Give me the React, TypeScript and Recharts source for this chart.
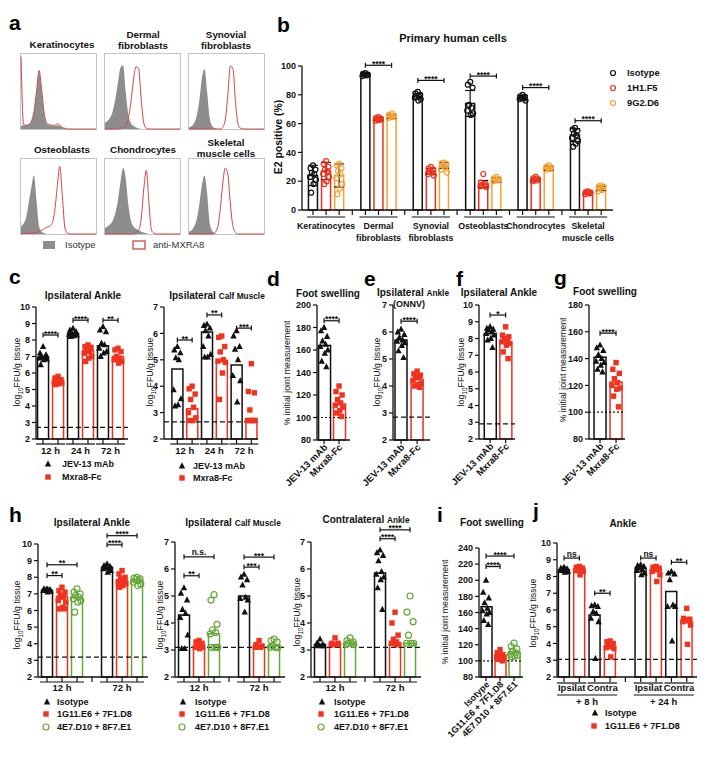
import React from 'react';
import { ComposedChart, Bar, Scatter, XAxis, YAxis, ReferenceLine, Cell, ErrorBar, Area, Line } from 'recharts';

const FONT = '"Liberation Sans", Arial, Helvetica, sans-serif';
const K = '#111111';
const C_RED = '#f0321e';
const C_ORANGE = '#f5a233';
const C_GREEN = '#66a83a';
const H_RED = '#c94848';
const H_GRAY = '#8d8d8d';

type Shape = 'tri' | 'sq' | 'circ';
type St = { color: string; shape: Shape; size: number };
const ST_TRI: St = { color: K, shape: 'tri', size: 3.2 };
const ST_SQ: St = { color: C_RED, shape: 'sq', size: 2.7 };
const ST_GO: St = { color: C_GREEN, shape: 'circ', size: 3 };
const ST_B_ISO: St = { color: K, shape: 'circ', size: 2.5 };
const ST_B_H1: St = { color: C_RED, shape: 'circ', size: 2.5 };
const ST_B_G2: St = { color: C_ORANGE, shape: 'circ', size: 2.5 };

// ---------------- Panel a : flow histograms (fraction of box height per bin) ----------------
const aKerIso = [0.04, 0.05, 0.05, 0.06, 0.1, 0.22, 0.48, 0.76, 0.5, 0.18, 0.07, 0.05, 0.04, 0.04, 0.05, 0.04, 0.02, 0.01, 0, 0, 0, 0, 0, 0, 0, 0, 0, 0, 0, 0];
const aKerMx = [0.97, 0.06, 0.05, 0.06, 0.1, 0.23, 0.5, 0.78, 0.52, 0.2, 0.08, 0.06, 0.05, 0.05, 0.07, 0.05, 0.02, 0.01, 0, 0, 0, 0, 0, 0, 0, 0, 0, 0, 0, 0];
const aDermIso = [0.08, 0.11, 0.15, 0.24, 0.4, 0.62, 0.82, 0.85, 0.5, 0.2, 0.08, 0.04, 0.02, 0.01, 0, 0, 0, 0, 0, 0, 0, 0, 0, 0, 0, 0, 0, 0, 0, 0];
const aDermMx = [0, 0, 0, 0, 0, 0, 0.01, 0.02, 0.05, 0.14, 0.35, 0.65, 0.83, 0.8, 0.4, 0.08, 0.01, 0, 0, 0, 0, 0, 0, 0, 0, 0, 0, 0, 0, 0];
const aSynIso = [0.02, 0.04, 0.08, 0.18, 0.38, 0.68, 0.8, 0.5, 0.15, 0.04, 0.01, 0, 0, 0, 0, 0, 0, 0, 0, 0, 0, 0, 0, 0, 0, 0, 0, 0, 0, 0];
const aSynMx = [0, 0, 0, 0, 0, 0, 0, 0, 0, 0, 0, 0, 0, 0.02, 0.12, 0.45, 0.84, 0.8, 0.35, 0.06, 0.01, 0, 0, 0, 0, 0, 0, 0, 0, 0];
const aOstIso = [0.1, 0.14, 0.22, 0.42, 0.62, 0.78, 0.45, 0.1, 0.03, 0.01, 0, 0, 0, 0, 0, 0, 0, 0, 0, 0, 0, 0, 0, 0, 0, 0, 0, 0, 0, 0];
const aOstMx = [0.01, 0.01, 0.01, 0.01, 0.01, 0.01, 0.02, 0.03, 0.05, 0.07, 0.09, 0.1, 0.14, 0.3, 0.62, 0.9, 0.5, 0.08, 0.01, 0, 0, 0, 0, 0, 0, 0, 0, 0, 0, 0];
const aChoIso = [0.08, 0.1, 0.13, 0.18, 0.28, 0.45, 0.7, 0.88, 0.75, 0.4, 0.18, 0.1, 0.07, 0.05, 0.03, 0.02, 0.01, 0, 0, 0, 0, 0, 0, 0, 0, 0, 0, 0, 0, 0];
const aChoMx = [0, 0, 0, 0, 0, 0, 0, 0, 0, 0, 0, 0, 0.02, 0.05, 0.2, 0.6, 0.85, 0.4, 0.05, 0.01, 0, 0, 0, 0, 0, 0, 0, 0, 0, 0];
const aSkeIso = [0.03, 0.05, 0.1, 0.2, 0.4, 0.65, 0.78, 0.55, 0.15, 0.04, 0.01, 0, 0, 0, 0, 0, 0, 0, 0, 0, 0, 0, 0, 0, 0, 0, 0, 0, 0, 0];
const aSkeMx = [0, 0, 0, 0, 0, 0, 0, 0, 0, 0, 0.02, 0.08, 0.3, 0.65, 0.88, 0.8, 0.4, 0.1, 0.02, 0, 0, 0, 0, 0, 0, 0, 0, 0, 0, 0];

// ---------------- Panel b ----------------
const bCellLabels = [['Keratinocytes'], ['Dermal', 'fibroblasts'], ['Synovial', 'fibroblasts'], ['Osteoblasts'], ['Chondrocytes'], ['Skeletal', 'muscle cells']];
const bIsoMean = [24, 94, 79, 74, 78, 52];
const bIsoSD = [7, 1, 2, 9, 1.5, 4.5];
const bIsoPts = [[31, 29, 28, 26, 25, 23, 21, 18, 12], [95, 94.5, 94, 94, 93.5, 93], [82, 81, 80, 79, 79, 78, 77, 76], [89, 87, 85, 73, 71, 69, 67, 66], [80, 79, 78.5, 78, 77.5, 77, 76], [57, 56, 55, 53, 52, 50, 48, 46, 44]];
const bH1Mean = [27, 63, 27, 18, 21, 12];
const bH1SD = [6, 1, 2, 2.5, 1, 1];
const bH1Pts = [[34, 32, 30, 28, 27, 25, 23, 20, 18], [64.5, 64, 63.5, 63, 62.5, 62], [30, 29, 28, 27, 26, 25, 24], [25, 19, 18, 17.5, 17, 16.5, 16], [23, 22, 21.5, 21, 20.5, 20], [13, 12.5, 12, 12, 11.5, 11]];
const bG2Mean = [24, 65, 31, 21, 29, 15];
const bG2SD = [8, 1.5, 2, 1.5, 1.5, 1.5];
const bG2Pts = [[32, 31, 29, 27, 25, 22, 18, 15, 11], [67, 66, 65.5, 65, 64.5, 64], [33, 32.5, 32, 31, 30, 28, 26], [23, 22, 21.5, 21, 20.5, 20], [31, 30, 29.5, 29, 28.5, 28], [17, 16.5, 16, 15, 14, 13]];
const bSig: [number, number, number, number, string][] = [[1, 0, 2, 100.5, '****'], [2, 0, 2, 90, '****'], [3, 0, 2, 93, '****'], [4, 0, 2, 85, '****'], [5, 0, 2, 62, '****']];

// ---------------- Panel c ----------------
const cTimes = ['12 h', '24 h', '72 h'];
const cAnkleJev = [[7.6, 7.2, 7.1, 7.0, 6.95, 6.9, 6.85, 6.8, 6.5], [8.7, 8.6, 8.5, 8.45, 8.4, 8.35, 8.3, 8.25, 8.2], [8.8, 8.6, 8.5, 7.8, 7.7, 7.5, 7.3, 7.2, 7.0]];
const cAnkleJevMean = [6.95, 8.4, 7.65];
const cAnkleMxra = [[5.8, 5.7, 5.6, 5.55, 5.5, 5.45, 5.4, 5.35, 5.3], [7.7, 7.6, 7.55, 7.4, 7.3, 7.2, 7.0, 6.9, 6.7], [7.5, 7.4, 7.3, 7.0, 6.9, 6.8, 6.7, 6.6]];
const cAnkleMxraMean = [5.5, 7.35, 7.0];
const cAnkleSig: [number, number, number, number, string][] = [[0, 0, 1, 8.3, '****'], [1, 0, 1, 9.2, '****'], [2, 0, 1, 9.2, '**']];
const cCalfJev = [[5.5, 5.37, 5.26, 5.07, 5.0, 3.86, 3.52, 3.29, 3.25], [6.35, 6.3, 6.2, 6.1, 5.9, 5.5, 5.2, 5.1, 5.1], [6.1, 5.9, 5.5, 5.4, 5.0, 4.4, 4.2, 3.4]];
const cCalfJevMean = [4.65, 6.05, 4.8];
const cCalfMxra = [[4.0, 3.9, 3.7, 3.5, 3.2, 3.0, 2.8, 2.7, 2.7], [5.9, 5.85, 5.5, 5.3, 5.0, 4.95, 4.9, 4.5, 3.5], [4.85, 3.8, 3.75, 3.1, 2.7, 2.7, 2.7, 2.7, 2.7]];
const cCalfMxraMean = [3.15, 4.95, 2.75];
const cCalfSig: [number, number, number, number, string][] = [[0, 0, 1, 5.75, '**'], [1, 0, 1, 6.7, '**'], [2, 0, 1, 6.2, '***']];

// ---------------- Panels d-g ----------------
const dgLabels = ['JEV-13 mAb', 'Mxra8-Fc'];
const dJev = [[180, 177, 172, 168, 165, 163, 160, 157, 150, 145]];
const dJevMean = [164];
const dMxra = [[128, 123, 120, 116, 113, 111, 109, 106, 104, 101]];
const dMxraMean = [112];
const dSig: [number, number, number, number, string][] = [[0, 0, 1, 186, '****']];
const eJev = [[6.1, 6.0, 5.9, 5.8, 5.7, 5.65, 5.6, 5.5, 5.3, 5.05]];
const eJevMean = [5.7];
const eMxra = [[4.55, 4.45, 4.4, 4.35, 4.3, 4.2, 4.1, 4.05, 4.0, 3.95]];
const eMxraMean = [4.25];
const eSig: [number, number, number, number, string][] = [[0, 0, 1, 6.4, '****']];
const fJev = [[8.7, 8.6, 8.55, 8.5, 8.4, 8.3, 8.2, 8.0, 7.9, 7.45]];
const fJevMean = [8.3];
const fMxra = [[8.7, 8.2, 8.1, 8.0, 7.9, 7.8, 7.7, 7.6, 7.2, 6.8]];
const fMxraMean = [7.8];
const fSig: [number, number, number, number, string][] = [[0, 0, 1, 9.4, '*']];
const gJev = [[150, 148, 146, 143, 140, 138, 137, 135, 132, 130]];
const gJevMean = [141];
const gMxra = [[137, 132, 129, 125, 122, 120, 118, 117, 112, 104]];
const gMxraMean = [122.5];
const gSig: [number, number, number, number, string][] = [[0, 0, 1, 159, '****']];

// ---------------- Panel h ----------------
const hTimes = ['12 h', '72 h'];
const hAnkleIso = [[7.3, 7.3, 7.25, 7.2, 7.2, 7.2, 7.15, 7.1], [8.8, 8.7, 8.65, 8.6, 8.55, 8.5, 8.4, 8.3]];
const hAnkleIsoMean = [7.22, 8.6];
const hAnkleRed = [[7.4, 7.2, 7.1, 6.9, 6.8, 6.6, 6.5, 6.2, 6.1, 6.1], [8.4, 8.2, 8.0, 7.9, 7.8, 7.7, 7.6, 7.5, 7.4]];
const hAnkleRedMean = [6.85, 7.85];
const hAnkleGreen = [[7.3, 7.1, 7.0, 6.9, 6.8, 6.7, 6.6, 6.5, 5.9], [8.0, 7.95, 7.9, 7.85, 7.8, 7.7, 7.6, 7.5]];
const hAnkleGreenMean = [6.78, 7.8];
const hAnkleSig: [number, number, number, number, string][] = [[0, 0, 1, 8.1, '**'], [0, 0, 2, 8.75, '**'], [1, 0, 1, 9.95, '****'], [1, 0, 2, 10.5, '****']];
const hCalfIso = [[5.3, 5.1, 4.85, 4.5, 4.35, 4.2, 3.55, 3.05, 3.05], [5.8, 5.7, 5.6, 5.4, 4.95, 4.9, 4.85, 4.4]];
const hCalfIsoMean = [4.3, 5.0];
const hCalfRed = [[3.35, 3.3, 3.25, 3.2, 3.15, 3.1, 3.1, 3.05], [3.35, 3.2, 3.15, 3.1, 3.1, 3.1]];
const hCalfRedMean = [3.07, 3.1];
const hCalfGreen = [[5.05, 4.85, 3.95, 3.75, 3.65, 3.6, 3.1, 3.1, 3.1, 3.1], [3.4, 3.35, 3.3, 3.15, 3.1, 3.1, 3.1]];
const hCalfGreenMean = [3.6, 3.15];
const hCalfSig: [number, number, number, number, string][] = [[0, 0, 1, 5.75, '**'], [0, 0, 2, 6.45, 'n.s.'], [1, 0, 1, 6.07, '***'], [1, 0, 2, 6.44, '***']];
const hContraIso = [[3.4, 3.25, 3.2, 3.2, 3.15, 3.15, 3.15], [6.7, 6.6, 6.5, 6.3, 5.9, 5.8, 5.7, 5.6, 5.3, 4.5]];
const hContraIsoMean = [3.2, 5.85];
const hContraRed = [[3.45, 3.25, 3.25, 3.2, 3.2, 3.2], [4.4, 4.0, 3.55, 3.4, 3.3, 3.25, 3.2, 3.2]];
const hContraRedMean = [3.25, 3.2];
const hContraGreen = [[3.45, 3.35, 3.3, 3.25, 3.25, 3.2, 3.2], [5.0, 4.4, 4.05, 3.55, 3.25, 3.25, 3.25, 3.25]];
const hContraGreenMean = [3.25, 3.25];
const hContraSig: [number, number, number, number, string][] = [[1, 0, 1, 7.12, '****'], [1, 0, 2, 7.45, '****']];

// ---------------- Panel i ----------------
const iLabels = ['Isotype', '1G11.E6 + 7F1.D8', '4E7.D10 + 8F7.E1'];
const iIso = [[200, 185, 178, 172, 165, 162, 160, 158, 150, 145]];
const iIsoMean = [167];
const iRed = [[114, 110, 108, 107, 106, 105, 104, 103, 102, 100]];
const iRedMean = [107];
const iGreen = [[122, 118, 115, 112, 110, 108, 107, 106, 105]];
const iGreenMean = [111];
const iSig: [number, number, number, number, string][] = [[0, 0, 1, 217, '****'], [0, 0, 2, 230, '****']];

// ---------------- Panel j ----------------
const jSubLabels = ['Ipsilat', 'Contra', 'Ipsilat', 'Contra'];
const jTimeLabels = ['+ 8 h', '+ 24 h'];
const jIsoPts = [[8.55, 8.5, 8.45, 8.4, 8.4, 8.35, 8.3, 8.25], [6.3, 6.25, 6.2, 5.9, 5.8, 5.5, 5.3, 3.1], [8.7, 8.65, 8.6, 8.5, 8.4, 8.35, 8.2, 8.1], [8.3, 8.2, 8.15, 7.8, 6.3, 6.2, 6.2, 4.15]];
const jIsoMean = [8.4, 5.7, 8.5, 7.1];
const jRedPts = [[8.6, 8.55, 8.5, 8.5, 8.4, 8.35, 8.3, 8.1], [4.15, 4.1, 4.0, 3.9, 3.8, 3.75, 3.7, 3.2], [8.6, 8.55, 8.5, 8.45, 8.4, 8.3, 8.1, 7.7], [6.1, 5.5, 5.45, 5.4, 5.35, 5.3, 5.1, 3.95]];
const jRedMean = [8.45, 3.8, 8.4, 5.3];
const jSig: [number, number, number, number, string][] = [[0, 0, 1, 9.1, 'ns'], [1, 0, 1, 7.0, '**'], [2, 0, 1, 9.1, 'ns'], [3, 0, 1, 8.85, '**']];

const T2_10 = [2, 3, 4, 5, 6, 7, 8, 9, 10];
const T2_7 = [2, 3, 4, 5, 6, 7];

// layout-only horizontal spread pattern for replicate points (slot units)
const JIT = [0, -0.26, 0.26, -0.13, 0.13, -0.32, 0.32, 0.06, -0.2, 0.2];

// ---------------- helpers ----------------
function Marker({ cx, cy, st }: { cx: number; cy: number; st: St }) {
  if (!isFinite(cx) || !isFinite(cy)) return null;
  const s = st.size;
  if (st.shape === 'tri') return <polygon points={`${cx},${cy - s * 1.15} ${cx - s},${cy + s * 0.75} ${cx + s},${cy + s * 0.75}`} fill={st.color} />;
  if (st.shape === 'sq') return <rect x={cx - s} y={cy - s} width={2 * s} height={2 * s} fill={st.color} />;
  return <circle cx={cx} cy={cy} r={s} fill="none" stroke={st.color} strokeWidth={1.2} />;
}

type Col = { pos: number; mean: number; pts: number[]; st: St; sd?: number };
type Sig = [number, number, number, number, string];
type Grp = { from: number; to: number; lines: string[]; level: number };
type Cfg = {
  x0: number; x1: number; yTop: number; yBot: number;
  domain: [number, number]; ticks: number[];
  xlo: number; xhi: number; barSize: number;
  starts: number[]; cols: Col[]; sig: Sig[];
  groups?: Grp[]; seps?: number[]; rotated?: string[];
  lod?: number; lodDash?: string;
  tickLen: number; ul: number[]; txt: number[]; lineH: number; labelSize: number; jitter: number;
};

function buildCols(series: { st: St; means: number[]; pts: number[][]; sd?: number[] }[], starts: number[]): Col[] {
  const out: Col[] = [];
  starts.forEach((s, g) => series.forEach((se, k) => out.push({ pos: s + k, mean: se.means[g], pts: se.pts[g], st: se.st, sd: se.sd ? se.sd[g] : undefined })));
  return out;
}
function buildGroups(labels: string[][], starts: number[], n: number, level = 0): Grp[] {
  return starts.map((s, g) => ({ from: s, to: s + n - 1, lines: labels[g], level }));
}

function Panel({ c }: { c: Cfg }) {
  const ML = 40, MR = 10, MT = 28, MB = 66;
  const W = c.x1 - c.x0, H = c.yBot - c.yTop;
  const slotPx = W / (c.xhi - c.xlo);
  const perPx = (c.domain[1] - c.domain[0]) / H;
  const half = c.barSize / 2 + 1.5;
  const data = c.cols.map((col) => ({ pos: col.pos, mean: col.mean, sd: col.sd ?? 0 }));
  const hasSd = c.cols.some((col) => col.sd !== undefined);
  const tickVals = [...c.cols.map((col) => col.pos), ...(c.seps ?? [])].sort((a, b) => a - b);
  const groups = c.groups ?? [];
  const renderTick = (tp: any) => {
    const v = tp.payload.value;
    const x = tp.x, y = tp.y;
    const els: any[] = [<line key="tk" x1={x} x2={x} y1={y} y2={y + c.tickLen} stroke={K} strokeWidth={1.2} />];
    groups.forEach((g, gi) => {
      if (Math.abs(g.from - v) > 1e-6) return;
      const xb = x + (g.to - g.from) * slotPx;
      const uy = y + c.ul[g.level];
      els.push(<line key={`u${gi}`} x1={x - half} x2={xb + half} y1={uy} y2={uy} stroke={K} strokeWidth={1.2} />);
      g.lines.forEach((ln, li) => els.push(
        <text key={`t${gi}-${li}`} x={(x + xb) / 2} y={y + c.txt[g.level] + li * c.lineH + c.labelSize * 0.36} textAnchor="middle" fontSize={c.labelSize} fontWeight="bold" fontFamily={FONT} fill={K}>{ln}</text>
      ));
    });
    if (c.rotated) {
      const idx = c.cols.findIndex((col) => Math.abs(col.pos - v) < 1e-6);
      if (idx >= 0) {
        const ax = x + 4, ay = y + 8;
        els.push(<text key="r" x={ax} y={ay} transform={`rotate(-45 ${ax} ${ay})`} textAnchor="end" fontSize={c.labelSize} fontWeight="bold" fontFamily={FONT} fill={K}>{c.rotated[idx]}</text>);
      }
    }
    return <g>{els}</g>;
  };
  const cap = 2.5 * perPx;
  const refs: any[] = [];
  c.sig.forEach(([g, sa, sb, yv, t], i) => {
    const xa = c.starts[g] + sa, xb = c.starts[g] + sb;
    refs.push(<ReferenceLine key={`b${i}`} segment={[{ x: xa, y: yv }, { x: xb, y: yv }]} stroke={K} strokeWidth={1.2} ifOverflow="visible"
      label={{ value: t, position: 'top', offset: t.includes('*') ? -1.5 : 1.5, fontSize: 8.5, fontWeight: 'bold', fill: K, fontFamily: FONT }} />);
    refs.push(<ReferenceLine key={`l${i}`} segment={[{ x: xa, y: yv - cap }, { x: xa, y: yv + cap }]} stroke={K} strokeWidth={1.2} ifOverflow="visible" />);
    refs.push(<ReferenceLine key={`r${i}`} segment={[{ x: xb, y: yv - cap }, { x: xb, y: yv + cap }]} stroke={K} strokeWidth={1.2} ifOverflow="visible" />);
  });
  return (
    <div style={{ position: 'absolute', left: c.x0 - ML, top: c.yTop - MT }}>
      <ComposedChart width={ML + W + MR} height={MT + H + MB} data={data} margin={{ top: MT, right: MR, bottom: 0, left: 0 }}>
        <XAxis xAxisId={0} type="number" dataKey="pos" domain={[c.xlo, c.xhi]} ticks={tickVals} interval={0} height={MB}
          tickSize={0} tickMargin={0} tickLine={false} tick={renderTick} axisLine={{ stroke: K, strokeWidth: 1.3 }} />
        <XAxis xAxisId="p" type="number" dataKey="pos" domain={[c.xlo, c.xhi]} hide />
        <YAxis type="number" domain={c.domain} ticks={c.ticks} interval={0} width={ML} tickSize={4} tickMargin={2}
          tick={{ fontSize: 9, fontWeight: 'bold', fill: K, fontFamily: FONT }} axisLine={{ stroke: K, strokeWidth: 1.3 }} tickLine={{ stroke: K, strokeWidth: 1.2 }} />
        {c.lod !== undefined && <ReferenceLine y={c.lod} stroke={K} strokeDasharray={c.lodDash} strokeWidth={1.2} />}
        <Bar xAxisId={0} dataKey="mean" barSize={c.barSize} isAnimationActive={false} fill="#ffffff" fillOpacity={0} strokeWidth={1.5}>
          {c.cols.map((col, i) => <Cell key={i} stroke={col.st.color} />)}
          {hasSd && <ErrorBar dataKey="sd" width={5} strokeWidth={1.2} stroke={K} direction="y" />}
        </Bar>
        {c.cols.map((col, i) => (
          <Scatter key={`s${i}`} xAxisId="p" data={col.pts.map((v, k) => ({ pos: col.pos + JIT[k % JIT.length] * c.jitter, y: v }))}
            dataKey="y" isAnimationActive={false} shape={(sp: any) => <Marker cx={sp.cx} cy={sp.cy} st={col.st} />} />
        ))}
        {refs}
      </ComposedChart>
    </div>
  );
}

function Histo({ left, top, iso, mx }: { left: number; top: number; iso: number[]; mx: number[] }) {
  const data = iso.map((v, i) => ({ i, iso: v, mx: mx[i] }));
  return (
    <div style={{ position: 'absolute', left, top, width: 77, height: 77, border: '1px solid #c4c4c4', boxSizing: 'border-box' }}>
      <ComposedChart width={75} height={75} data={data} margin={{ top: 0, right: 0, bottom: 0, left: 0 }}>
        <XAxis type="number" dataKey="i" domain={[0, 29]} hide />
        <YAxis type="number" domain={[0, 1]} hide />
        <Area type="monotone" dataKey="iso" stroke="none" fill={H_GRAY} fillOpacity={1} isAnimationActive={false} />
        <Line type="monotone" dataKey="mx" stroke={H_RED} strokeWidth={1} dot={false} isAnimationActive={false} />
      </ComposedChart>
    </div>
  );
}

// ---------------- chart configurations ----------------
const C_AX = { tickLen: 5, ul: [5], txt: [11.5], lineH: 11, labelSize: 9.5, jitter: 0.78 };
const R_AX = { tickLen: 4, ul: [0], txt: [0], lineH: 0, labelSize: 9.5, jitter: 0.78 };

const cfgB: Cfg = {
  x0: 302, x1: 613, yTop: 66, yBot: 210, domain: [0, 100], ticks: [0, 20, 40, 60, 80, 100],
  xlo: -0.84, xhi: 22.9, barSize: 9, starts: [0, 4, 8, 12, 16, 20],
  cols: buildCols([
    { st: ST_B_ISO, means: bIsoMean, pts: bIsoPts, sd: bIsoSD },
    { st: ST_B_H1, means: bH1Mean, pts: bH1Pts, sd: bH1SD },
    { st: ST_B_G2, means: bG2Mean, pts: bG2Pts, sd: bG2SD },
  ], [0, 4, 8, 12, 16, 20]),
  sig: bSig, groups: buildGroups(bCellLabels, [0, 4, 8, 12, 16, 20], 3), seps: [3, 7, 11, 15, 19],
  tickLen: 5, ul: [7], txt: [16], lineH: 11.5, labelSize: 8.8, jitter: 0.7,
};

const cfgC1: Cfg = {
  ...C_AX, x0: 36, x1: 128, yTop: 307, yBot: 439, domain: [2, 10], ticks: T2_10, xlo: -0.47, xhi: 5.67, barSize: 11,
  starts: [0, 2, 4],
  cols: buildCols([{ st: ST_TRI, means: cAnkleJevMean, pts: cAnkleJev }, { st: ST_SQ, means: cAnkleMxraMean, pts: cAnkleMxra }], [0, 2, 4]),
  sig: cAnkleSig, groups: buildGroups(cTimes.map((t) => [t]), [0, 2, 4], 2), lod: 2.7, lodDash: '5 3',
};
const cfgC2: Cfg = {
  ...C_AX, x0: 164, x1: 258, yTop: 307, yBot: 439, domain: [2, 7], ticks: T2_7, xlo: -0.9, xhi: 5.45, barSize: 11,
  starts: [0, 2, 4],
  cols: buildCols([{ st: ST_TRI, means: cCalfJevMean, pts: cCalfJev }, { st: ST_SQ, means: cCalfMxraMean, pts: cCalfMxra }], [0, 2, 4]),
  sig: cCalfSig, groups: buildGroups(cTimes.map((t) => [t]), [0, 2, 4], 2), lod: 2.65, lodDash: '5 3',
};
const cfgD: Cfg = {
  ...R_AX, x0: 317, x1: 350, yTop: 305, yBot: 440, domain: [80, 200], ticks: [80, 100, 120, 140, 160, 180, 200], xlo: -0.47, xhi: 1.73, barSize: 12,
  starts: [0], cols: buildCols([{ st: ST_TRI, means: dJevMean, pts: dJev }, { st: ST_SQ, means: dMxraMean, pts: dMxra }], [0]),
  sig: dSig, rotated: dgLabels, lod: 100, lodDash: '2 2',
};
const cfgE: Cfg = {
  ...R_AX, x0: 393, x1: 430, yTop: 305, yBot: 440, domain: [2, 7], ticks: T2_7, xlo: -0.5, xhi: 1.8, barSize: 12,
  starts: [0], cols: buildCols([{ st: ST_TRI, means: eJevMean, pts: eJev }, { st: ST_SQ, means: eMxraMean, pts: eMxra }], [0]),
  sig: eSig, rotated: dgLabels, lod: 2.85, lodDash: '5 3',
};
const cfgF: Cfg = {
  ...R_AX, x0: 479, x1: 515, yTop: 305, yBot: 439, domain: [2, 10], ticks: T2_10, xlo: -0.71, xhi: 1.6, barSize: 12,
  starts: [0], cols: buildCols([{ st: ST_TRI, means: fJevMean, pts: fJev }, { st: ST_SQ, means: fMxraMean, pts: fMxra }], [0]),
  sig: fSig, rotated: dgLabels, lod: 2.9, lodDash: '5 3',
};
const cfgG: Cfg = {
  ...R_AX, x0: 589, x1: 625, yTop: 305, yBot: 439, domain: [80, 180], ticks: [80, 100, 120, 140, 160, 180], xlo: -0.69, xhi: 1.56, barSize: 12,
  starts: [0], cols: buildCols([{ st: ST_TRI, means: gJevMean, pts: gJev }, { st: ST_SQ, means: gMxraMean, pts: gMxra }], [0]),
  sig: gSig, rotated: dgLabels, lod: 100, lodDash: '2 2',
};
const H_AX = { ...C_AX, ul: [5], txt: [11], xlo: -0.6, xhi: 6.73, barSize: 11, starts: [0, 4], seps: [3] };
const cfgH1: Cfg = {
  ...H_AX, x0: 38, x1: 148, yTop: 544, yBot: 677, domain: [2, 10], ticks: T2_10,
  cols: buildCols([
    { st: ST_TRI, means: hAnkleIsoMean, pts: hAnkleIso },
    { st: ST_SQ, means: hAnkleRedMean, pts: hAnkleRed },
    { st: ST_GO, means: hAnkleGreenMean, pts: hAnkleGreen },
  ], [0, 4]),
  sig: hAnkleSig, groups: buildGroups(hTimes.map((t) => [t]), [0, 4], 3), lod: 3.2, lodDash: '5 3',
};
const cfgH2: Cfg = {
  ...H_AX, x0: 175, x1: 285, yTop: 542, yBot: 677, domain: [2, 7], ticks: T2_7,
  cols: buildCols([
    { st: ST_TRI, means: hCalfIsoMean, pts: hCalfIso },
    { st: ST_SQ, means: hCalfRedMean, pts: hCalfRed },
    { st: ST_GO, means: hCalfGreenMean, pts: hCalfGreen },
  ], [0, 4]),
  sig: hCalfSig, groups: buildGroups(hTimes.map((t) => [t]), [0, 4], 3), lod: 3.1, lodDash: '5 3',
};
const cfgH3: Cfg = {
  ...H_AX, x0: 311, x1: 421, yTop: 542, yBot: 677, domain: [2, 7], ticks: T2_7,
  cols: buildCols([
    { st: ST_TRI, means: hContraIsoMean, pts: hContraIso },
    { st: ST_SQ, means: hContraRedMean, pts: hContraRed },
    { st: ST_GO, means: hContraGreenMean, pts: hContraGreen },
  ], [0, 4]),
  sig: hContraSig, groups: buildGroups(hTimes.map((t) => [t]), [0, 4], 3), lod: 3.1, lodDash: '5 3',
};
const cfgI: Cfg = {
  ...R_AX, x0: 479, x1: 523, yTop: 548, yBot: 677, domain: [80, 240], ticks: [80, 100, 120, 140, 160, 180, 200, 220, 240],
  xlo: -0.5, xhi: 2.64, barSize: 11, starts: [0],
  cols: buildCols([
    { st: ST_TRI, means: iIsoMean, pts: iIso },
    { st: ST_SQ, means: iRedMean, pts: iRed },
    { st: ST_GO, means: iGreenMean, pts: iGreen },
  ], [0]),
  sig: iSig, rotated: iLabels, lod: 100, lodDash: '2 2', labelSize: 9,
};
const cfgJ: Cfg = {
  ...C_AX, x0: 557, x1: 697, yTop: 543, yBot: 677, domain: [2, 10], ticks: T2_10, xlo: -0.46, xhi: 8.67, barSize: 11,
  starts: [0, 2, 5, 7],
  cols: buildCols([{ st: ST_TRI, means: jIsoMean, pts: jIsoPts }, { st: ST_SQ, means: jRedMean, pts: jRedPts }], [0, 2, 5, 7]),
  sig: jSig,
  groups: [...buildGroups(jSubLabels.map((s) => [s]), [0, 2, 5, 7], 2, 0), ...buildGroups(jTimeLabels.map((s) => [s]), [0, 5], 4, 1)],
  seps: [4], lod: 3.05, lodDash: '5 3', ul: [6, 18], txt: [11, 24.5],
};

// ---------------- text helpers ----------------
const Tx = ({ x, y, s = 10, w = 'bold', a = 'middle', fill = K, children }: any) => (
  <text x={x} y={y + s * 0.35} fontSize={s} fontWeight={w} textAnchor={a} fontFamily={FONT} fill={fill}>{children}</text>
);
const Letter = ({ x, y, ch }: any) => (
  <text x={x} y={y} fontSize={21} fontWeight="bold" fontFamily={FONT} fill="#000">{ch}</text>
);
const YL = ({ x, y, s = 8.8, w = 'normal', children }: any) => (
  <text transform={`translate(${x},${y}) rotate(-90)`} x={0} y={s * 0.35} textAnchor="middle" fontSize={s} fontWeight={w} fontFamily={FONT} fill={K}>{children}</text>
);
const LogLabel = () => (<>log<tspan fontSize={6.5} dy={2.5}>10</tspan><tspan dy={-2.5}>FFU/g tissue</tspan></>);

export default function App() {
  return (
    <div style={{ position: 'absolute', left: 0, top: 0, width: 704, height: 765, background: '#ffffff', fontFamily: FONT, overflow: 'hidden' }}>
      <style>{`.recharts-surface{overflow:visible}`}</style>
      <Histo left={20} top={53} iso={aKerIso} mx={aKerMx} />
      <Histo left={104} top={53} iso={aDermIso} mx={aDermMx} />
      <Histo left={188} top={53} iso={aSynIso} mx={aSynMx} />
      <Histo left={20} top={158} iso={aOstIso} mx={aOstMx} />
      <Histo left={104} top={158} iso={aChoIso} mx={aChoMx} />
      <Histo left={188} top={158} iso={aSkeIso} mx={aSkeMx} />
      <Panel c={cfgB} />
      <Panel c={cfgC1} />
      <Panel c={cfgC2} />
      <Panel c={cfgD} />
      <Panel c={cfgE} />
      <Panel c={cfgF} />
      <Panel c={cfgG} />
      <Panel c={cfgH1} />
      <Panel c={cfgH2} />
      <Panel c={cfgH3} />
      <Panel c={cfgI} />
      <Panel c={cfgJ} />
      <svg width={704} height={765} style={{ position: 'absolute', left: 0, top: 0, pointerEvents: 'none' }}>
        {/* panel letters */}
        <Letter x={9} y={30} ch="a" />
        <Letter x={277} y={32} ch="b" />
        <Letter x={9} y={284} ch="c" />
        <Letter x={267} y={286} ch="d" />
        <Letter x={364} y={286} ch="e" />
        <Letter x={456} y={286} ch="f" />
        <Letter x={554} y={285} ch="g" />
        <Letter x={9} y={522} ch="h" />
        <Letter x={437} y={522} ch="i" />
        <Letter x={533} y={518} ch="j" />

        {/* panel a titles & legend */}
        <Tx x={62} y={45} s={9.8}>Keratinocytes</Tx>
        <Tx x={143} y={35} s={9.8}>Dermal</Tx>
        <Tx x={143} y={46} s={9.8}>fibroblasts</Tx>
        <Tx x={226} y={35} s={9.8}>Synovial</Tx>
        <Tx x={226} y={46} s={9.8}>fibroblasts</Tx>
        <Tx x={62} y={150} s={9.8}>Osteoblasts</Tx>
        <Tx x={143} y={150} s={9.8}>Chondrocytes</Tx>
        <Tx x={226} y={143} s={9.8}>Skeletal</Tx>
        <Tx x={226} y={154} s={9.8}>muscle cells</Tx>
        <rect x={43} y={241} width={12} height={8} fill={H_GRAY} />
        <Tx x={65} y={245} s={9.5} w="normal" a="start" fill="#333">Isotype</Tx>
        <rect x={133} y={241} width={12} height={8} fill="none" stroke={H_RED} strokeWidth={1.3} />
        <Tx x={153} y={245} s={9.5} w="normal" a="start" fill="#333">anti-MXRA8</Tx>

        {/* panel b */}
        <Tx x={453} y={38} s={11}>Primary human cells</Tx>
        <YL x={278} y={137} s={10.5} w="bold">E2 positive (%)</YL>
        <Marker cx={613} cy={73} st={ST_B_ISO} />
        <Marker cx={613} cy={88} st={ST_B_H1} />
        <Marker cx={613} cy={103} st={ST_B_G2} />
        <Tx x={627} y={73} s={9.3} a="start">Isotype</Tx>
        <Tx x={627} y={88} s={9.3} a="start">1H1.F5</Tx>
        <Tx x={627} y={103} s={9.3} a="start">9G2.D6</Tx>

        {/* panel c-g titles */}
        <Tx x={83} y={295} s={10}>Ipsilateral Ankle</Tx>
        <Tx x={217} y={295} s={10}>Ipsilateral <tspan fontSize={8.3}>Calf Muscle</tspan></Tx>
        <Tx x={328} y={293} s={10}>Foot swelling</Tx>
        <Tx x={413} y={292} s={10}>Ipsilateral <tspan fontSize={8.3}>Ankle</tspan></Tx>
        <Tx x={409} y={304} s={9}>(ONNV)</Tx>
        <Tx x={499} y={292} s={10}>Ipsilateral Ankle</Tx>
        <Tx x={605} y={291} s={10}>Foot swelling</Tx>
        <YL x={17} y={372}><LogLabel /></YL>
        <YL x={150} y={372}><LogLabel /></YL>
        <YL x={287} y={373}>% initial joint measurement</YL>
        <YL x={377} y={372}><LogLabel /></YL>
        <YL x={461} y={372}><LogLabel /></YL>
        <YL x={563} y={370}>% initial joint measurement</YL>
        <Marker cx={48} cy={464} st={ST_TRI} />
        <Marker cx={48} cy={477} st={ST_SQ} />
        <Tx x={62} y={464} s={9} a="start">JEV-13 mAb</Tx>
        <Tx x={62} y={477} s={9} a="start">Mxra8-Fc</Tx>
        <Marker cx={182} cy={466} st={ST_TRI} />
        <Marker cx={182} cy={478} st={ST_SQ} />
        <Tx x={193} y={466} s={9} a="start">JEV-13 mAb</Tx>
        <Tx x={193} y={478} s={9} a="start">Mxra8-Fc</Tx>

        {/* panel h-j titles */}
        <Tx x={92} y={522} s={10}>Ipsilateral Ankle</Tx>
        <Tx x={233} y={522} s={10}>Ipsilateral <tspan fontSize={8.3}>Calf Muscle</tspan></Tx>
        <Tx x={366} y={519} s={10}>Contralateral <tspan fontSize={8.3}>Ankle</tspan></Tx>
        <Tx x={492} y={522} s={10}>Foot swelling</Tx>
        <Tx x={623} y={523} s={10}>Ankle</Tx>
        <YL x={17} y={615}><LogLabel /></YL>
        <YL x={160} y={615}><LogLabel /></YL>
        <YL x={297} y={612}><LogLabel /></YL>
        <YL x={445} y={612}>% initial joint measurement</YL>
        <YL x={533} y={613}><LogLabel /></YL>
        {[[47, 57], [183, 195], [322, 334]].map(([mx, tx], i) => (
          <g key={i}>
            <Marker cx={mx} cy={702} st={ST_TRI} />
            <Marker cx={mx - 1} cy={714} st={ST_SQ} />
            <Marker cx={mx - 1} cy={727} st={ST_GO} />
            <Tx x={tx} y={702} s={9} a="start">Isotype</Tx>
            <Tx x={tx} y={714} s={9} a="start">1G11.E6 + 7F1.D8</Tx>
            <Tx x={tx} y={727} s={9} a="start">4E7.D10 + 8F7.E1</Tx>
          </g>
        ))}
        <Marker cx={595} cy={713} st={ST_TRI} />
        <Marker cx={594} cy={726} st={ST_SQ} />
        <Tx x={605} y={713} s={9} a="start">Isotype</Tx>
        <Tx x={605} y={726} s={9} a="start">1G11.E6 + 7F1.D8</Tx>
      </svg>
    </div>
  );
}
